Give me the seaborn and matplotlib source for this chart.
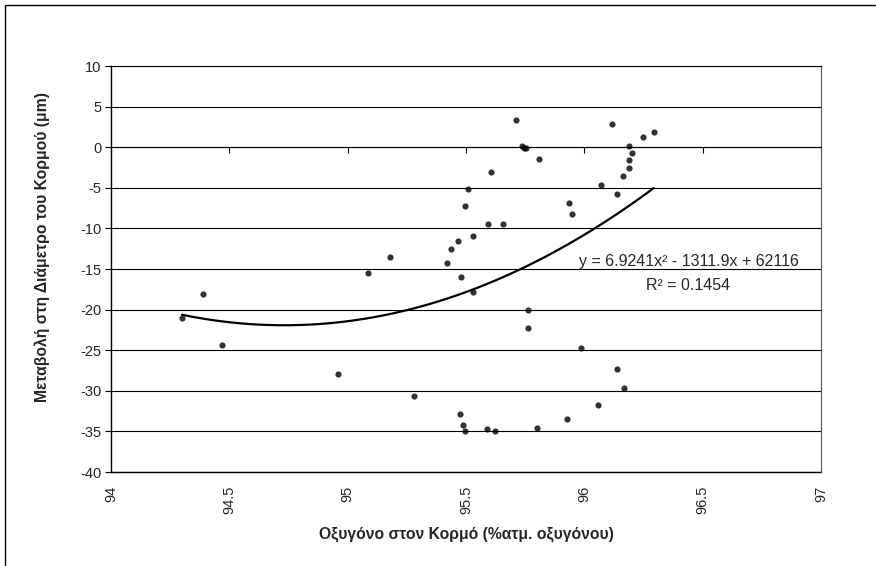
import matplotlib
matplotlib.use("Agg")
import matplotlib.pyplot as plt
from matplotlib.patches import Rectangle
import seaborn as sns
import pandas as pd

# Data
oxygen = [94.30, 94.39, 94.47, 94.96, 95.085, 95.18, 95.28, 95.42, 95.435, 95.465,
          95.479, 95.474, 95.488, 95.494, 95.494, 95.508, 95.528, 95.528, 95.587, 95.593,
          95.605, 95.622, 95.658, 95.711, 95.736, 95.745, 95.753, 95.76, 95.76, 95.798,
          95.81, 95.928, 95.934, 95.948, 95.987, 96.056, 96.07, 96.115, 96.136, 96.14,
          96.164, 96.166, 96.19, 96.20, 96.19, 96.19, 96.249, 96.293]
diameter_change = [-21.0, -18.1, -24.4, -27.9, -15.5, -13.5, -30.7, -14.2, -12.5, -11.5,
                   -16.0, -32.9, -34.2, -35.0, -7.2, -5.1, -10.9, -17.8, -34.7, -9.5,
                   -3.0, -35.0, -9.5, 3.4, 0.2, -0.05, -0.1, -20.0, -22.3, -34.6,
                   -1.4, -33.5, -6.9, -8.2, -24.7, -31.8, -4.6, 2.8, -5.8, -27.3,
                   -3.6, -29.7, 0.2, -0.7, -1.6, -2.6, 1.2, 1.9]
x_ticks = [94, 94.5, 95, 95.5, 96, 96.5, 97]
x_tick_labels = ["94", "94.5", "95", "95.5", "96", "96.5", "97"]
y_ticks = [10, 5, 0, -5, -10, -15, -20, -25, -30, -35, -40]
equation_text = "y = 6.9241x\u00b2 - 1311.9x + 62116"
r2_text = "R\u00b2 = 0.1454"
x_label = "Οξυγόνο στον Κορμό (%ατμ. οξυγόνου)"
y_label = "Μεταβολή στη Διάμετρο του Κορμού (μm)"

df = pd.DataFrame({"x": oxygen, "y": diameter_change})

sns.set_theme(style="white")
plt.rcParams["font.family"] = ["Liberation Sans", "DejaVu Sans"]

TICK_FS = 10.5
LABEL_FS = 11.3

fig = plt.figure(figsize=(8.76, 5.66), dpi=100)
ax = fig.add_axes([111 / 876, 1 - 472 / 566, 710 / 876, 406 / 566])

sns.regplot(data=df, x="x", y="y", order=2, ci=None, truncate=True, ax=ax,
            scatter_kws=dict(marker="D", s=20, color="black", linewidths=0, zorder=3),
            line_kws=dict(color="black", lw=1.6, zorder=2))

ax.set_xlim(94, 97)
ax.set_ylim(-40, 10)
ax.set_yticks(y_ticks)
ax.set_yticklabels([str(v) for v in y_ticks], fontsize=TICK_FS)
ax.grid(axis="y", color="black", lw=0.8)
ax.set_axisbelow(True)

# x axis crosses at y=0 with outward ticks; labels sit at the bottom
ax.spines["bottom"].set_position(("data", 0))
ax.spines["bottom"].set_color("black")
ax.spines["bottom"].set_linewidth(0.8)
ax.set_xticks(x_ticks)
ax.tick_params(axis="x", direction="out", length=4, width=0.8, color="black",
               labelbottom=False, bottom=True)
ax.tick_params(axis="y", direction="out", length=4, width=0.8, color="black",
               left=True, pad=3)
ax.spines["left"].set_color("black")
ax.spines["left"].set_linewidth(1.0)
ax.spines["top"].set_color("black")
ax.spines["top"].set_linewidth(0.8)
ax.spines["right"].set_color("#555555")
ax.spines["right"].set_linewidth(0.8)
ax.set_xlabel("")
ax.set_ylabel(y_label, fontsize=LABEL_FS, fontweight="bold")
ax.yaxis.set_label_coords(-0.086, 0.554)

sec = ax.secondary_xaxis("bottom")
sec.set_xticks(x_ticks)
sec.set_xticklabels(x_tick_labels, rotation=90, fontsize=TICK_FS)
sec.tick_params(axis="x", length=0, pad=10)
sec.spines["bottom"].set_color("black")
sec.spines["bottom"].set_linewidth(1.0)
sec.set_xlabel(x_label, fontsize=LABEL_FS, fontweight="bold", labelpad=9)

ax.text(96.44, -14.1, equation_text, ha="center", va="center", fontsize=11.5)
ax.text(96.44, -17.0, r2_text, ha="center", va="center", fontsize=11.5)

fig.add_artist(Rectangle((5 / 876, -0.1), 1.2, 1.1 - 5 / 566, transform=fig.transFigure,
                         fill=False, edgecolor="black", lw=1.0))

fig.savefig("out.png", dpi=100, facecolor="white")
